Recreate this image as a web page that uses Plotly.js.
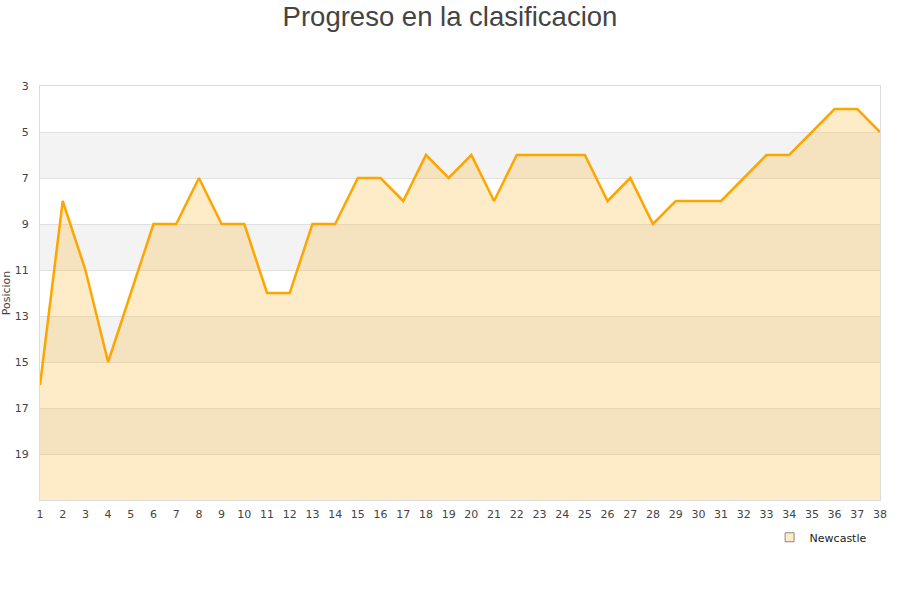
<!DOCTYPE html>
<html>
<head>
<meta charset="utf-8">
<script src="https://cdn.plot.ly/plotly-3.0.1.min.js"></script>
<style>html,body{margin:0;padding:0;background:#fff;}#chart{width:900px;height:600px;}</style>
</head>
<body>
<div id="chart"></div>
<script>
const rounds = [1,2,3,4,5,6,7,8,9,10,11,12,13,14,15,16,17,18,19,20,21,22,23,24,25,26,27,28,29,30,31,32,33,34,35,36,37,38];
const positions = [16,8,11,15,12,9,9,7,9,9,12,12,9,9,7,7,8,6,7,6,8,6,6,6,6,8,7,9,8,8,8,7,6,6,5,4,4,5];
const teamName = "Newcastle";
const yTicks = [3,5,7,9,11,13,15,17,19];
const bandStarts = [5,9,13,17];
const bottomPos = 21;
const topPos = 3;

const baseline = rounds.map(() => bottomPos);

const traces = [
  {x: rounds, y: baseline, mode: 'lines', line: {width: 0}, showlegend: false, hoverinfo: 'skip'},
  {x: rounds, y: positions, mode: 'lines', fill: 'tonexty', fillcolor: 'rgba(252,192,72,0.3)',
   line: {color: '#FFA500', width: 2.5}, showlegend: false, name: teamName},
  {x: [null], y: [null], mode: 'markers', name: teamName,
   marker: {symbol: 'square', size: 9, color: 'rgba(252,192,72,0.3)', line: {color: '#888', width: 1}}}
];

const shapes = bandStarts.map(s => ({
  type: 'rect', xref: 'paper', yref: 'y', x0: 0, x1: 1, y0: s, y1: s + 2,
  fillcolor: '#f3f3f3', line: {width: 0}, layer: 'below'
}));

const layout = {
  width: 900, height: 600,
  margin: {l: 40, r: 20, t: 86, b: 100},
  paper_bgcolor: '#fff', plot_bgcolor: '#fff',
  title: {text: 'Progreso en la clasificacion', x: 0.5, xanchor: 'center', y: 0.973, yanchor: 'middle',
          font: {family: 'Liberation Sans, Arial, sans-serif', size: 27.5, color: '#444'}},
  xaxis: {range: [1, 38], tickmode: 'array', tickvals: rounds, ticktext: rounds.map(String),
          showgrid: false, zeroline: false, showline: true, linecolor: '#ddd', mirror: true,
          ticks: '', ticklabelstandoff: 4,
          tickfont: {family: 'DejaVu Sans, sans-serif', size: 11, color: '#444'}, fixedrange: true},
  yaxis: {range: [bottomPos, topPos], tickmode: 'array', tickvals: yTicks, ticktext: yTicks.map(String),
          showgrid: true, gridcolor: '#e0e0e0', zeroline: false, showline: true, linecolor: '#ddd', mirror: true,
          ticks: '', ticklabelstandoff: 8,
          tickfont: {family: 'DejaVu Sans, sans-serif', size: 11, color: '#444'},
          title: {text: 'Posicion', standoff: 2, font: {family: 'DejaVu Sans, sans-serif', size: 11, color: '#444'}}},
  shapes: shapes,
  showlegend: true,
  legend: {orientation: 'h', x: 0.99, xanchor: 'right', y: -0.055, yanchor: 'top', itemwidth: 20,
           font: {family: 'DejaVu Sans, sans-serif', size: 11, color: '#222'}, bgcolor: 'rgba(0,0,0,0)'},
  hovermode: false
};

Plotly.newPlot('chart', traces, layout, {displayModeBar: false, staticPlot: true});
</script>
</body>
</html>
